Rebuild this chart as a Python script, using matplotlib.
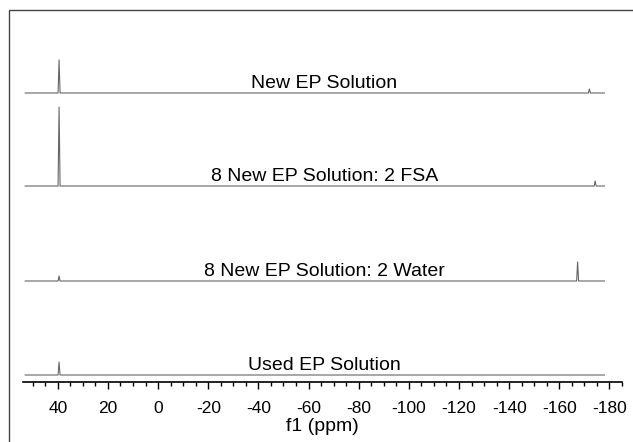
import matplotlib
matplotlib.use("Agg")
import matplotlib.pyplot as plt
from matplotlib.ticker import MultipleLocator
from matplotlib.patches import Rectangle

# spectra: (ppm, intensity) vertices
labels = ["New EP Solution", "8 New EP Solution: 2 FSA",
          "8 New EP Solution: 2 Water", "Used EP Solution"]

new_ep_ppm = [53, 39.9, 39.5, 39.1, -171.6, -172.0, -172.4, -178]
new_ep_int = [0, 0, 33, 0, 0, 4, 0, 0]

fsa_ppm = [53, 39.9, 39.5, 39.1, -173.9, -174.3, -174.7, -178]
fsa_int = [0, 0, 79, 0, 0, 5, 0, 0]

water_ppm = [53, 39.9, 39.5, 39.1, -166.9, -167.3, -167.7, -178]
water_int = [0, 0, 5, 0, 0, 19, 0, 0]

used_ppm = [53, 39.9, 39.5, 39.1, -178]
used_int = [0, 0, 13, 0, 0]

spectra = [(new_ep_ppm, new_ep_int), (fsa_ppm, fsa_int),
           (water_ppm, water_int), (used_ppm, used_int)]
offsets = [289, 196, 101, 7]

plt.rcParams["font.family"] = ["Liberation Sans", "DejaVu Sans"]
plt.rcParams["axes.unicode_minus"] = False

fig = plt.figure(figsize=(6.33, 4.42), dpi=100)
# outer frame, cut by the right and bottom edges of the picture
fig.patches.append(Rectangle((9 / 633, -0.1), 1.2, 1.0 - 10 / 442 + 0.1,
                             transform=fig.transFigure, fill=False,
                             edgecolor="#444444", linewidth=1.0))

ax = fig.add_axes([22.7 / 633, 60 / 442, 599.3 / 633, 372 / 442])
for (ppm, inten), off, lab in zip(spectra, offsets, labels):
    ax.plot(ppm, [v + off for v in inten], color="#666666", linewidth=0.8)
    ax.text(0.503, off + 1, lab, transform=ax.get_yaxis_transform(),
            ha="center", va="bottom", fontsize=14)

ax.set_xlim(54, -185)
ax.set_ylim(0, 372)
ax.set_yticks([])
for s in ["left", "right", "top"]:
    ax.spines[s].set_visible(False)
ax.spines["bottom"].set_linewidth(1.2)
ax.patch.set_visible(False)

ax.xaxis.set_major_locator(MultipleLocator(20))
ax.xaxis.set_minor_locator(MultipleLocator(5))
ax.tick_params(axis="x", which="major", length=5, width=1, labelsize=12.5, pad=9)
ax.tick_params(axis="x", which="minor", length=3, width=1)
ax.set_xlabel("f1 (ppm)", fontsize=14, labelpad=1)

fig.savefig("out.png", dpi=100)
